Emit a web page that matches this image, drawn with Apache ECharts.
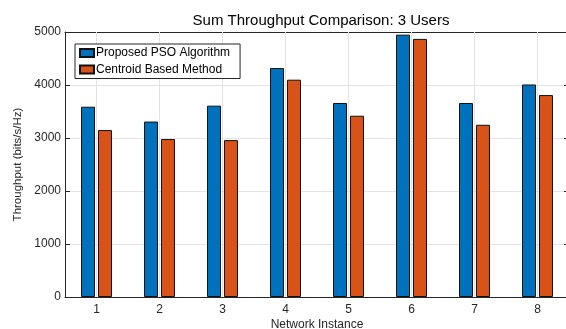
<!DOCTYPE html>
<html>
<head>
<meta charset="utf-8">
<script src="https://cdn.jsdelivr.net/npm/echarts@6/dist/echarts.min.js"></script>
<style>
html,body{margin:0;padding:0;background:#fff;}
#chart{width:566px;height:329px;}
</style>
</head>
<body>
<div id="chart"></div>
<script>
const categories = ['1', '2', '3', '4', '5', '6', '7', '8'];
const psoValues = [3590, 3310, 3610, 4320, 3660, 4950, 3660, 4010];
const centroidValues = [3150, 2980, 2960, 4100, 3420, 4870, 3250, 3810];
const yTicks = [0, 1000, 2000, 3000, 4000, 5000];
const seriesNames = ['Proposed PSO Algorithm', 'Centroid Based Method'];

const FONT = 'Liberation Sans, Arial, Helvetica, sans-serif';
const AX = '#262626';
const GRIDC = '#e3e3e3';
const Y_MIN = yTicks[0];
const Y_MAX = yTicks[yTicks.length - 1];

const chart = echarts.init(document.getElementById('chart'), null, {renderer: 'canvas'});
const option = {
  animation: false,
  backgroundColor: '#fff',
  title: {
    text: 'Sum Throughput Comparison: 3 Users',
    left: 316, textAlign: 'center', top: 8,
    textStyle: {fontFamily: FONT, fontSize: 15, fontWeight: 'normal', color: '#000'}
  },
  grid: {left: 65, top: 32, width: 504, height: 265, containLabel: false, outerBoundsMode: 'none'},
  legend: {
    orient: 'vertical', left: 75, top: 44, z: 10,
    data: seriesNames,
    backgroundColor: '#fff', borderColor: AX, borderWidth: 1,
    padding: [2, 10, 2, 4], itemGap: 2.5, itemWidth: 14, itemHeight: 8,
    icon: 'rect',
    textStyle: {fontFamily: FONT, fontSize: 12, color: '#000', lineHeight: 14, padding: [0, 0, 0, -3]}
  },
  xAxis: [{
    type: 'category', data: categories, position: 'bottom',
    name: 'Network Instance', nameLocation: 'middle', nameGap: 22, nameMoveOverlap: false,
    nameTextStyle: {fontFamily: FONT, fontSize: 12, color: AX},
    axisLine: {show: true, lineStyle: {color: AX, width: 1}},
    axisTick: {show: true, inside: true, alignWithLabel: true, length: 5, lineStyle: {color: AX}},
    axisLabel: {fontFamily: FONT, fontSize: 12, color: AX, margin: 7},
    splitLine: {show: false}
  }, {
    type: 'category', data: categories, position: 'top',
    axisLine: {show: true, onZero: false, lineStyle: {color: AX, width: 1}},
    axisTick: {show: true, inside: true, alignWithLabel: true, length: 5, lineStyle: {color: AX}},
    axisLabel: {show: false},
    splitLine: {show: false}
  }],
  yAxis: [{
    type: 'value', min: Y_MIN, max: Y_MAX, interval: 1000,
    name: 'Throughput (bits/s/Hz)', nameLocation: 'middle', nameGap: 41, nameMoveOverlap: false,
    nameTextStyle: {fontFamily: FONT, fontSize: 11.5, color: AX},
    axisLine: {show: true, lineStyle: {color: AX, width: 1}},
    axisTick: {show: true, inside: true, length: 5, lineStyle: {color: AX}},
    axisLabel: {fontFamily: FONT, fontSize: 12, color: AX, margin: 4, formatter: v => String(v)},
    splitLine: {show: true, lineStyle: {color: GRIDC, width: 1}}
  }, {
    type: 'value', min: Y_MIN, max: Y_MAX, interval: 1000, position: 'right',
    axisLine: {show: true, lineStyle: {color: AX, width: 1}},
    axisTick: {show: true, inside: true, length: 5, lineStyle: {color: AX}},
    axisLabel: {show: false},
    splitLine: {show: false}
  }],
  series: [{
    name: 'xgrid', type: 'custom', z: 1, silent: true,
    data: categories.map(c => [c, Y_MIN]),
    encode: {x: 0, y: 1},
    renderItem: function (params, api) {
      const x = api.value(0);
      const p0 = api.coord([x, Y_MIN]);
      const p1 = api.coord([x, Y_MAX]);
      return {
        type: 'line',
        shape: {x1: p0[0], y1: p0[1], x2: p1[0], y2: p1[1]},
        style: {stroke: GRIDC, lineWidth: 1}
      };
    }
  }, {
    name: seriesNames[0], type: 'bar', data: psoValues, z: 3,
    barWidth: 14, barGap: '21%',
    itemStyle: {color: '#0072BD', borderColor: '#111', borderWidth: 1}
  }, {
    name: seriesNames[1], type: 'bar', data: centroidValues, z: 3,
    barWidth: 14, barGap: '21%',
    itemStyle: {color: '#D95319', borderColor: '#111', borderWidth: 1}
  }]
};
chart.setOption(option);
</script>
</body>
</html>
